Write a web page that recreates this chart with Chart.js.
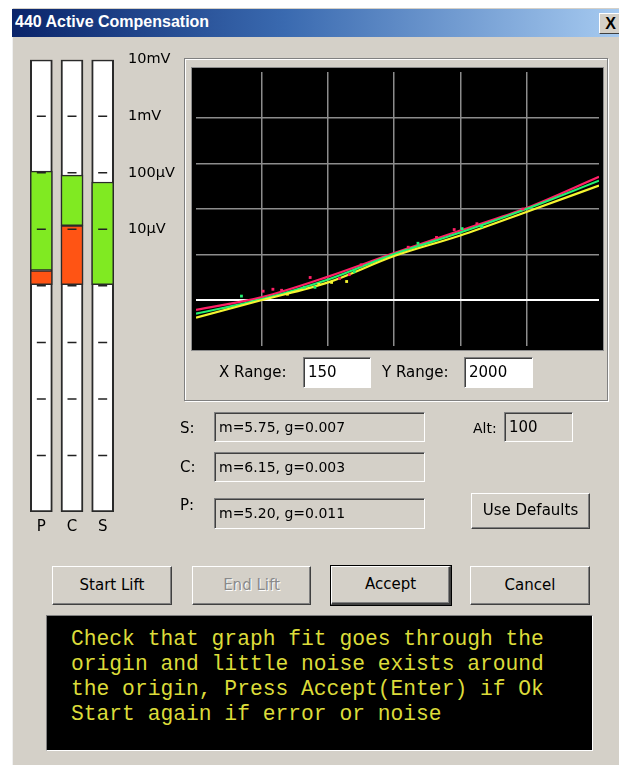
<!DOCTYPE html>
<html><head><meta charset="utf-8">
<script src="https://cdn.jsdelivr.net/npm/chart.js@4.4.0/dist/chart.umd.min.js"></script>
<style>
html,body{margin:0;padding:0;}
body{width:619px;height:765px;overflow:hidden;background:#fff;position:relative;font-family:"DejaVu Sans",sans-serif;color:#000;}
.abs{position:absolute;box-sizing:border-box;}
#dlg{left:12px;top:8px;width:620px;height:770px;background:#d4d0c8;border-left:1px solid #f0f0f0;}
#title{left:12px;top:9px;width:607px;height:28px;background:linear-gradient(to right,#0a246a,#3a6ab0 45%,#a6caf0);}
#titleText{left:15px;top:13px;height:24px;line-height:24px;color:#fff;font:bold 16px "Liberation Sans",sans-serif;white-space:nowrap;}
#close{left:599px;top:13px;width:22px;height:21px;background:#d4d0c8;border-top:1px solid #fff;border-left:1px solid #fff;border-bottom:1px solid #404040;font:bold 16px "Liberation Sans",sans-serif;line-height:19px;text-align:center;}
.lbl{white-space:nowrap;font-size:15px;height:20px;line-height:20px;}
.btn{background:#d4d0c8;border-top:1px solid #fff;border-left:1px solid #fff;border-right:1px solid #404040;border-bottom:1px solid #404040;box-shadow:inset -1px -1px 0 #808080;text-align:center;font-size:15px;}
.fld{border-top:1px solid #808080;border-left:1px solid #808080;border-right:1px solid #fff;border-bottom:1px solid #fff;box-shadow:inset 1px 1px 0 #404040;font-size:14px;padding-left:4px;white-space:nowrap;}
#group{left:184px;top:58px;width:424px;height:343px;border:1px solid #808080;box-shadow:inset 1px 1px 0 #fff,1px 1px 0 #fff;}
#plotWrap{left:191px;top:67px;width:413px;height:284px;border:1px solid #8c8c8c;background:#000;}
#msg{left:46px;top:615px;width:547px;height:136px;background:#000;border-top:1px solid #808080;border-left:1px solid #808080;border-right:1px solid #fff;border-bottom:1px solid #fff;}
#msgText{left:71px;top:627px;font:21.3px "Liberation Mono",monospace;line-height:25px;color:#dcdc3a;white-space:pre;}
</style>
</head><body>
<div id="dlg" class="abs"></div>
<div id="title" class="abs"></div>
<div id="titleText" class="abs">440 Active Compensation</div>
<div id="close" class="abs">X</div>

<div class="abs" style="left:20px;top:41px;width:200px;height:510px;"><canvas id="bars" width="200" height="510"></canvas></div>

<div id="group" class="abs"></div>
<div id="plotWrap" class="abs"><canvas id="plot" width="411" height="282"></canvas></div>

<div class="abs lbl" style="left:219px;top:362px;">X Range:</div>
<div class="abs fld" style="left:303px;top:357px;width:68px;height:31px;background:#fff;line-height:29px;font-size:15px;">150</div>
<div class="abs lbl" style="left:382px;top:362px;">Y Range:</div>
<div class="abs fld" style="left:464px;top:357px;width:69px;height:31px;background:#fff;line-height:29px;font-size:15px;">2000</div>

<div class="abs lbl" style="left:180px;top:418px;">S:</div>
<div class="abs lbl" style="left:180px;top:457px;">C:</div>
<div class="abs lbl" style="left:180px;top:495px;">P:</div>
<div class="abs fld" style="left:214px;top:412px;width:211px;height:30px;line-height:28px;">m=5.75, g=0.007</div>
<div class="abs fld" style="left:214px;top:452px;width:211px;height:30px;line-height:28px;">m=6.15, g=0.003</div>
<div class="abs fld" style="left:214px;top:498px;width:211px;height:31px;line-height:29px;">m=5.20, g=0.011</div>

<div class="abs lbl" style="left:473px;top:418px;font-size:14px;">Alt:</div>
<div class="abs fld" style="left:504px;top:412px;width:69px;height:30px;line-height:28px;font-size:15px;">100</div>
<div class="abs btn" style="left:471px;top:493px;width:119px;height:36px;line-height:33px;">Use Defaults</div>

<div class="abs btn" style="left:52px;top:566px;width:120px;height:39px;line-height:36px;">Start Lift</div>
<div class="abs btn" style="left:192px;top:566px;width:119px;height:39px;line-height:36px;color:#8a8a8a;text-shadow:1px 1px 0 #fff;">End Lift</div>
<div class="abs btn" style="left:331px;top:566px;width:120px;height:39px;line-height:34px;outline:1px solid #000;border-right:2px solid #404040;border-bottom:2px solid #404040;">Accept</div>
<div class="abs btn" style="left:470px;top:566px;width:120px;height:39px;line-height:36px;">Cancel</div>

<div id="msg" class="abs"></div>
<div id="msgText" class="abs">Check that graph fit goes through the
origin and little noise exists around
the origin, Press Accept(Enter) if Ok
Start again if error or noise</div>

<script>
// ---------- level meters (log scale, volts) ----------
const channels = ['P', 'C', 'S'];
const meterRange = [1e-10, 1e-2];
const orangeLevel = [[1.05e-6, 1.87e-6], [1.05e-6, 1.16e-5], null];
const greenLevel = [[1.87e-6, 1.07e-4], [1.16e-5, 9.1e-5], [1.05e-6, 6.87e-5]];
const decadeValues = [1e-10, 1e-9, 1e-8, 1e-7, 1e-6, 1e-5, 1e-4, 1e-3, 1e-2];
const decadeLabels = ['', '', '', '', '', '10µV', '100µV', '1mV', '10mV'];
const dashLevels = [1e-9, 1e-8, 1e-7, 1e-6, 1e-5, 1e-4, 1e-3];

// ---------- fit graph ----------
const fitX = [-25, 0, 25, 50, 75, 100, 127.5];
const fitC = [-83, 28, 208, 414, 611, 808, 1083];
const fitS = [-117, 11, 183, 405, 594, 800, 1048];
const fitP = [-151, 3, 157, 388, 568, 774, 1005];
const noiseC = [[0.4, 80], [4.1, 97], [7.4, 88], [18.2, 200], [29.3, 191], [33, 225], [37.5, 311], [55.3, 465], [66, 551], [72.7, 620], [81.3, 671], [98.7, 800]];
const noiseS = [[-7.8, 37], [16, 114], [20, 114], [34.9, 251], [59, 500], [75.7, 628], [83.1, 645]];
const noiseP = [[9.6, 54], [21.5, 140], [26.3, 157], [32, 165]];
const xGridValues = [0, 25, 50, 75, 100];
const yGridValues = [0, 400, 800, 1200, 1600];

Chart.defaults.font.family = '"DejaVu Sans", sans-serif';
Chart.defaults.animation = false;
Chart.defaults.plugins.legend.display = false;
Chart.defaults.plugins.tooltip.enabled = false;

const dashPoints = [];
channels.forEach(ch => dashLevels.forEach(v => dashPoints.push({x: ch, y: v})));

new Chart(document.getElementById('bars'), {
  data: {
    labels: channels,
    datasets: [
      {type: 'line', data: dashPoints, showLine: false, pointStyle: 'line', pointRadius: 4.5,
       pointBorderWidth: 1.5, borderColor: '#222', order: 0},
      {type: 'bar', data: greenLevel, backgroundColor: '#80ea22', borderColor: '#2a2a2a', borderWidth: 1.5,
       borderSkipped: false, grouped: false, barThickness: 22, order: 1},
      {type: 'bar', data: orangeLevel, backgroundColor: '#ff5414', borderColor: '#2a2a2a', borderWidth: 1.5,
       borderSkipped: false, grouped: false, barThickness: 22, order: 2},
      {type: 'bar', data: channels.map(() => meterRange), backgroundColor: '#ffffff', borderColor: '#2a2a2a',
       borderWidth: 2, borderSkipped: false, grouped: false, barThickness: 22, order: 3}
    ]
  },
  options: {
    responsive: false,
    layout: {padding: {top: 16, left: 4, right: 0, bottom: 0}},
    scales: {
      x: {type: 'category', offset: true, grid: {display: false, drawTicks: false}, border: {display: false},
          ticks: {color: '#000', font: {size: 15}, padding: 6},
          afterFit: s => { s.height = 39; }},
      y: {type: 'logarithmic', position: 'right', min: meterRange[0], max: meterRange[1],
          grid: {display: false, drawTicks: false}, border: {display: false},
          afterBuildTicks: s => { s.ticks = decadeValues.map(v => ({value: v})); },
          ticks: {color: '#000', font: {size: 14.5}, padding: 10, autoSkip: false,
                  callback: (v, i) => decadeLabels[i]},
          afterFit: s => { s.width = 102; }}
    }
  }
});

const toPts = (xs, ys) => xs.map((x, i) => ({x: x, y: ys[i]}));
const pairPts = arr => arr.map(p => ({x: p[0], y: p[1]}));
const red = '#ff1f66', green = '#22f070', yellow = '#f4f430';

new Chart(document.getElementById('plot'), {
  type: 'line',
  data: {
    datasets: [
      {data: pairPts(noiseC), showLine: false, pointStyle: 'rect', pointRadius: 2, pointBorderWidth: 0, backgroundColor: red, borderColor: red},
      {data: pairPts(noiseS), showLine: false, pointStyle: 'rect', pointRadius: 2, pointBorderWidth: 0, backgroundColor: green, borderColor: green},
      {data: pairPts(noiseP), showLine: false, pointStyle: 'rect', pointRadius: 2, pointBorderWidth: 0, backgroundColor: yellow, borderColor: yellow},
      {data: toPts(fitX, fitP), borderColor: yellow, borderWidth: 2.2, pointRadius: 0, cubicInterpolationMode: 'monotone'},
      {data: toPts(fitX, fitS), borderColor: green, borderWidth: 2.2, pointRadius: 0, cubicInterpolationMode: 'monotone'},
      {data: toPts(fitX, fitC), borderColor: red, borderWidth: 2.2, pointRadius: 0, cubicInterpolationMode: 'monotone'}
    ]
  },
  options: {
    responsive: false,
    layout: {padding: {top: 0, left: 0, right: 0, bottom: 2}},
    scales: {
      x: {type: 'linear', min: -25, max: 127.5, border: {display: false},
          ticks: {display: false}, grid: {drawTicks: false, color: '#8c8c8c', lineWidth: 1.5},
          afterBuildTicks: s => { s.ticks = xGridValues.map(v => ({value: v})); },
          afterFit: s => { s.height = 0; }},
      y: {type: 'linear', min: -400, max: 2000, border: {display: false},
          ticks: {display: false},
          grid: {drawTicks: false, lineWidth: c => (c.tick && c.tick.value === 0 ? 2 : 1.5),
                 color: c => (c.tick && c.tick.value === 0 ? '#ffffff' : '#8c8c8c')},
          afterBuildTicks: s => { s.ticks = yGridValues.map(v => ({value: v})); },
          afterFit: s => { s.width = 0; }}
    }
  }
});
</script>
</body></html>
